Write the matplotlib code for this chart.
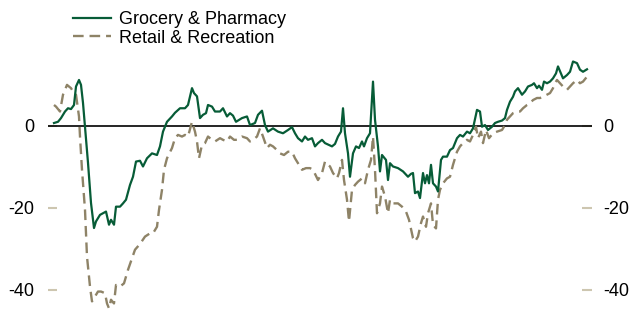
import matplotlib
matplotlib.use('Agg')
import matplotlib.pyplot as plt

plt.rcParams['font.family'] = ['Liberation Sans', 'DejaVu Sans']

# Days since 2020-02-15 and % change from baseline
grocery_days = [0, 4, 7, 11, 14, 17, 20, 22, 25, 27, 29, 31, 34, 37, 40, 42, 46, 49, 52, 55, 57, 60,
                62, 66, 69, 72, 76, 79, 82, 86, 89, 93, 98, 103, 106, 109, 113, 118, 121, 126, 131,
                134, 138, 140, 143, 146, 149, 152, 154, 158, 161, 166, 169, 173, 176, 179, 182, 188,
                193, 196, 201, 204, 208, 211, 214, 219, 224, 229, 234, 238, 241, 244, 248, 251, 254,
                258, 261, 264, 268, 271, 278, 281, 284, 287, 289, 291, 294, 296, 299, 302, 305, 308,
                310, 313, 316, 319, 321, 324, 326, 328, 332, 334, 336, 339, 344, 349, 354, 357, 359,
                361, 364, 366, 369, 371, 373, 375, 377, 379, 382, 384, 387, 389, 393, 396, 399, 403,
                406, 409, 413, 416, 419, 423, 426, 428, 431, 434, 438, 441, 444, 448, 451, 453, 456,
                459, 461, 464, 468, 471, 474, 478, 480, 483, 485, 488, 490, 493, 496, 499, 502, 504,
                507, 509, 513, 516, 519, 523, 526, 529, 533]
grocery = [0.7, 1.0, 1.9, 3.5, 4.3, 4.1, 5.1, 9.6, 11.2, 10.0, 5.6, -0.2, -9.0, -18.8, -24.9, -23.3,
           -21.7, -21.3, -20.9, -24.1, -22.9, -24.1, -19.7, -19.7, -18.9, -18.0, -14.4, -12.4, -8.7,
           -8.5, -9.9, -7.9, -6.7, -7.1, -5.0, -1.4, 1.0, 2.3, 3.2, 4.3, 4.3, 5.1, 9.2, 8.0, 7.2, 1.9,
           2.7, 3.1, 5.1, 4.7, 3.5, 3.5, 4.3, 2.3, 3.1, 2.5, 1.0, 1.9, 2.3, 0.2, 0.7, 2.7, 3.7, 0.2,
           -1.4, -0.6, -1.4, -1.8, -1.0, -0.3, -1.8, -3.0, -3.8, -2.6, -3.4, -3.0, -5.0, -4.2, -3.4,
           -4.2, -5.0, -4.4, -2.6, -1.4, 4.3, -1.8, -6.7, -12.4, -6.7, -5.0, -5.4, -3.8, -5.0, -3.0,
           -1.8, 10.8, 1.5, -5.0, -11.1, -7.1, -8.3, -13.2, -9.1, -9.9, -10.3, -11.1, -12.4, -11.7,
           -11.5, -16.4, -16.0, -17.6, -11.5, -14.0, -12.0, -14.0, -9.5, -14.0, -14.8, -16.0, -8.3,
           -7.5, -7.5, -5.9, -5.4, -3.0, -2.2, -2.6, -1.4, -1.8, -0.6, 3.9, 3.5, -0.2, 0.2, -1.0,
           -0.2, 0.7, 1.0, 1.3, 1.9, 3.9, 5.9, 7.1, 8.4, 9.2, 7.6, 8.4, 9.6, 10.0, 10.4, 9.2, 9.8,
           8.8, 10.8, 10.4, 10.8, 11.6, 12.8, 14.5, 12.8, 11.6, 12.4, 13.2, 15.7, 15.3, 13.7, 13.2,
           13.8]

retail_days = [0, 2, 6, 9, 13, 17, 20, 22, 25, 26, 28, 31, 33, 36, 38, 41, 44, 47, 51, 53, 55, 57,
               60, 62, 66, 70, 74, 78, 81, 86, 91, 96, 99, 103, 105, 108, 110, 113, 118, 121, 124,
               128, 131, 134, 138, 141, 143, 145, 148, 151, 154, 158, 161, 166, 169, 173, 176, 180,
               183, 188, 193, 196, 199, 203, 206, 209, 213, 216, 219, 223, 226, 230, 234, 238, 241,
               244, 248, 252, 256, 259, 264, 268, 271, 276, 279, 283, 285, 288, 290, 293, 295, 298,
               301, 304, 308, 311, 314, 317, 319, 321, 323, 326, 328, 331, 334, 336, 339, 344, 348,
               352, 355, 359, 361, 364, 367, 369, 372, 374, 377, 379, 382, 384, 386, 389, 393, 396,
               399, 403, 406, 409, 413, 416, 419, 422, 424, 427, 429, 432, 435, 439, 443, 448, 451,
               453, 456, 459, 463, 466, 469, 473, 476, 479, 483, 486, 489, 493, 496, 499, 501, 503,
               506, 509, 513, 516, 519, 523, 526, 529, 533]
retail = [5.1, 4.7, 3.5, 7.6, 10.0, 9.2, 8.0, 7.6, 2.3, -2.6, -10.7, -20.5, -31.9, -39.2, -42.8,
          -41.6, -40.4, -40.4, -40.8, -43.3, -44.5, -42.4, -43.3, -38.8, -39.2, -38.4, -35.1, -32.3,
          -30.2, -28.8, -27.0, -26.2, -26.2, -24.6, -20.5, -15.6, -10.7, -7.9, -5.4, -3.0, -2.2,
          -2.6, -2.2, -2.6, 1.0, -1.4, -3.8, -7.9, -4.6, -4.2, -2.6, -3.4, -3.8, -3.0, -3.4, -3.8,
          -2.6, -3.4, -3.4, -2.6, -3.0, -3.8, -3.4, -2.6, -0.6, -2.6, -5.4, -4.6, -5.0, -5.9, -6.7,
          -7.1, -6.3, -6.3, -7.9, -9.1, -10.7, -10.3, -10.3, -10.7, -13.2, -11.5, -8.7, -9.9,
          -11.5, -12.8, -11.5, -8.3, -13.2, -18.0, -23.3, -15.6, -14.4, -13.6, -12.8, -14.0, -10.7,
          -8.3, -2.6, -10.7, -21.3, -18.9, -14.8, -17.2, -21.3, -18.0, -18.9, -18.9, -19.7, -20.9,
          -22.9, -27.4, -28.2, -27.0, -23.7, -22.1, -24.6, -21.3, -18.9, -24.1, -25.0, -18.0,
          -15.6, -14.0, -12.8, -12.4, -9.5, -6.3, -5.0, -4.2, -3.4, -3.8, -2.2, -0.2, -3.0, -1.4,
          -4.2, -1.0, -3.0, -1.8, -1.4, -1.0, 0.2, 1.5, 2.3, 3.1, 3.5, 3.5, 4.3, 5.1, 5.5, 6.3,
          6.8, 6.8, 7.1, 7.6, 8.0, 9.2, 10.4, 11.2, 10.4, 9.6, 8.8, 9.6, 10.4, 11.2, 10.4, 10.8,
          12.0]

yticks = [0, -20, -40]
labels = ['Grocery & Pharmacy', 'Retail & Recreation']

GREEN = '#075c37'
TAN = '#8e8367'
TICK = '#cdc6b0'

fig = plt.figure(figsize=(6.33, 3.10), dpi=100)
ax = fig.add_axes([48 / 633, 0, 544 / 633, 1])
ax.set_xlim(-6, 538)
ax.set_ylim(-44.9, 30.7)
for s in ax.spines.values():
    s.set_visible(False)
ax.xaxis.set_visible(False)
ax.set_yticks(yticks)
ax.set_yticklabels([str(v) for v in yticks])
ax.tick_params(axis='y', direction='in', length=6.5, width=1.5, color=TICK,
               labelsize=13, pad=10, left=True, right=False, labelleft=True, labelright=False)

ax2 = ax.twinx()
ax2.set_xlim(ax.get_xlim())
ax2.set_ylim(ax.get_ylim())
for s in ax2.spines.values():
    s.set_visible(False)
ax2.set_yticks(yticks)
ax2.set_yticklabels([str(v) for v in yticks])
ax2.tick_params(axis='y', direction='in', length=7.5, width=1.5, color=TICK,
                labelsize=13, pad=8, left=False, right=True, labelleft=False, labelright=True)

ax2.axhline(0, color='black', lw=1.2, zorder=2.7)
l2, = ax2.plot(retail_days, retail, color=TAN, lw=1.7, linestyle=(0, (4.5, 2.5)), zorder=3,
               label=labels[1])
l1, = ax2.plot(grocery_days, grocery, color=GREEN, lw=1.6, zorder=4, label=labels[0])

ax2.legend(handles=[l1, l2], loc='upper left', bbox_to_anchor=(73 / 633, 1 - 11 / 310),
           bbox_transform=fig.transFigure, frameon=False, fontsize=13, handlelength=2.1,
           handletextpad=0.45, labelspacing=0.1, borderpad=0, borderaxespad=0)

fig.savefig('out.png', dpi=100)
